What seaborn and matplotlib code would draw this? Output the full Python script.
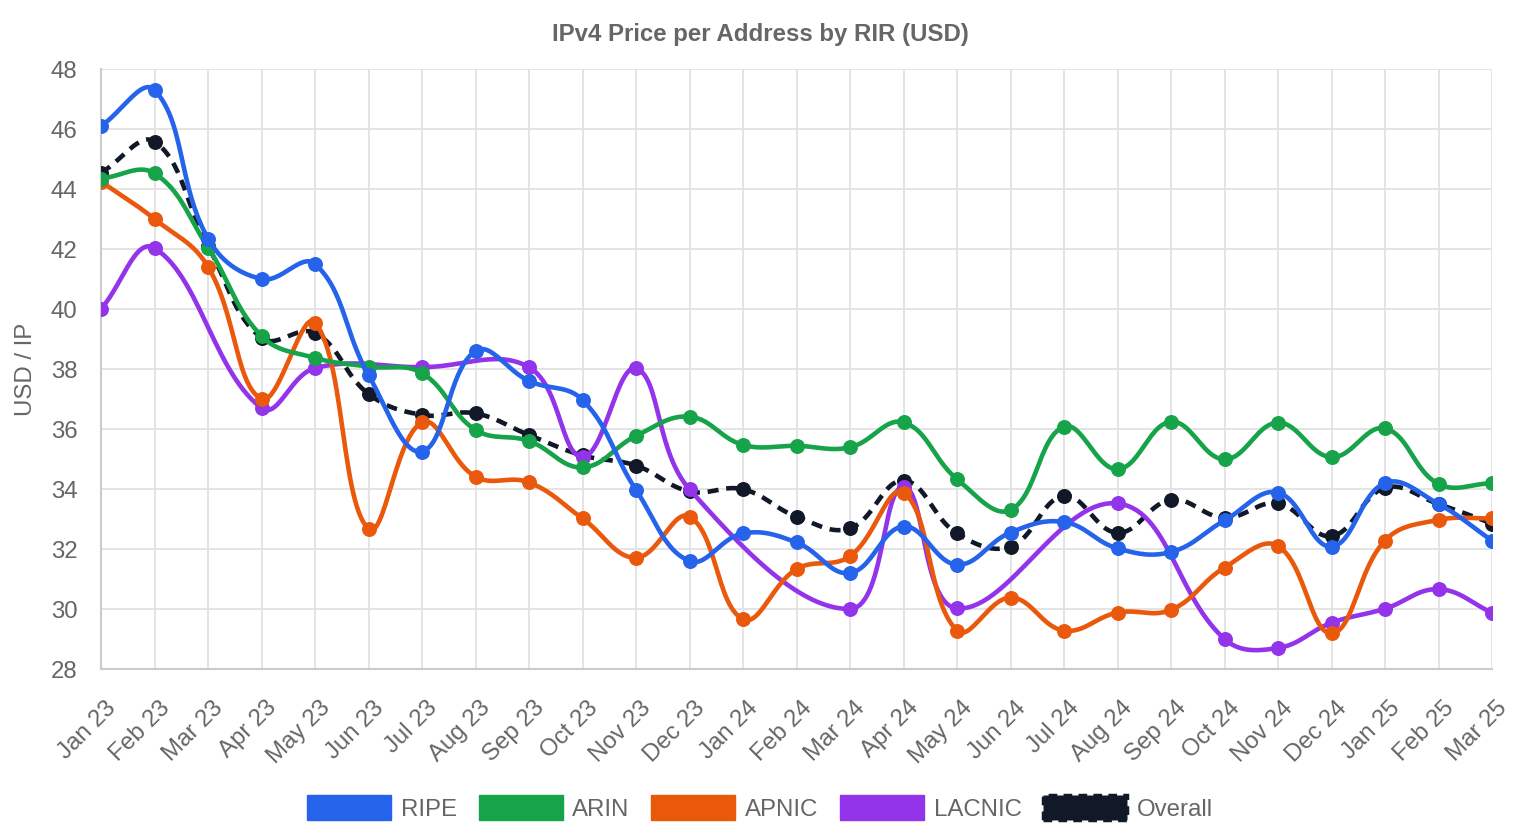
import numpy as np
import pandas as pd
import matplotlib
matplotlib.use("Agg")
import matplotlib.pyplot as plt
import matplotlib.transforms as mtransforms
from matplotlib.patches import Patch
import seaborn as sns

months = ["Jan 23", "Feb 23", "Mar 23", "Apr 23", "May 23", "Jun 23", "Jul 23",
          "Aug 23", "Sep 23", "Oct 23", "Nov 23", "Dec 23", "Jan 24", "Feb 24",
          "Mar 24", "Apr 24", "May 24", "Jun 24", "Jul 24", "Aug 24", "Sep 24",
          "Oct 24", "Nov 24", "Dec 24", "Jan 25", "Feb 25", "Mar 25"]

nan = np.nan
ripe = [46.10, 47.30, 42.35, 41.00, 41.50, 37.80, 35.25, 38.60, 37.60, 36.97,
        33.97, 31.60, 32.52, 32.22, 31.20, 32.75, 31.48, 32.55, 32.90, 32.02,
        31.90, 32.95, 33.88, 32.08, 34.20, 33.50, 32.28]
arin = [44.35, 44.52, 42.05, 39.10, 38.37, 38.08, 37.86, 35.97, 35.60, 34.72,
        35.77, 36.41, 35.47, 35.44, 35.39, 36.22, 34.33, 33.30, 36.08, 34.66,
        36.24, 34.99, 36.21, 35.06, 36.02, 34.17, 34.19]
apnic = [44.25, 43.00, 41.41, 37.00, 39.55, 32.67, 36.22, 34.41, 34.22, 33.02,
         31.71, 33.08, 29.66, 31.33, 31.76, 33.88, 29.28, 30.38, 29.28, 29.88,
         29.97, 31.38, 32.10, 29.19, 32.28, 32.97, 33.02]
lacnic = [40.00, 42.03, nan, 36.70, 38.03, nan, 38.06, nan, 38.06, 35.07,
          38.02, 33.99, nan, nan, 30.00, 34.08, 30.02, nan, nan, 33.52,
          nan, 29.00, 28.70, 29.54, 30.01, 30.66, 29.88]
overall = [44.54, 45.58, 42.10, 39.03, 39.20, 37.17, 36.47, 36.52, 35.80, 35.12,
           34.78, 33.92, 33.99, 33.08, 32.69, 34.28, 32.52, 32.08, 33.77, 32.54,
           33.64, 33.04, 33.52, 32.43, 34.04, 33.50, 32.85]

series_names = ["RIPE", "ARIN", "APNIC", "LACNIC", "Overall"]
series_values = [ripe, arin, apnic, lacnic, overall]
colors = ["#2563eb", "#16a34a", "#ea580c", "#9333ea", "#111827"]

Y_MIN, Y_MAX = 28, 48
TEXT = "#666666"
GRID = "#e2e2e2"
AXIS = "#cccccc"


def smooth_curve(xs, ys, tension=0.4, steps=30):
    # bezier spline like Chart.js (tension 0.4), gaps are skipped
    xs = np.asarray(xs, float)
    ys = np.asarray(ys, float)
    keep = ~np.isnan(ys)
    xs, ys = xs[keep], ys[keep]
    # work in pixel-like units so distances match the drawn chart
    px, py = xs * 53.5, ys * 30.0
    n = len(px)
    cprev = np.zeros((n, 2))
    cnext = np.zeros((n, 2))
    for i in range(n):
        a = max(i - 1, 0)
        b = min(i + 1, n - 1)
        d01 = np.hypot(px[i] - px[a], py[i] - py[a])
        d12 = np.hypot(px[b] - px[i], py[b] - py[i])
        tot = d01 + d12
        s01 = d01 / tot if tot else 0
        s12 = d12 / tot if tot else 0
        dx, dy = px[b] - px[a], py[b] - py[a]
        cprev[i] = (px[i] - tension * s01 * dx, py[i] - tension * s01 * dy)
        cnext[i] = (px[i] + tension * s12 * dx, py[i] + tension * s12 * dy)
    cprev[:, 1] = np.clip(cprev[:, 1], Y_MIN * 30, Y_MAX * 30)
    cnext[:, 1] = np.clip(cnext[:, 1], Y_MIN * 30, Y_MAX * 30)
    t = np.linspace(0, 1, steps)[:, None]
    out = [np.array([[px[0], py[0]]])]
    for i in range(n - 1):
        p0 = np.array([px[i], py[i]])
        p3 = np.array([px[i + 1], py[i + 1]])
        seg = ((1 - t) ** 3) * p0 + 3 * ((1 - t) ** 2) * t * cnext[i] \
            + 3 * (1 - t) * t ** 2 * cprev[i + 1] + t ** 3 * p3
        out.append(seg[1:])
    pts = np.vstack(out)
    return pts[:, 0] / 53.5, pts[:, 1] / 30.0


def main():
    sns.set_theme(style="white")
    plt.rcParams["font.family"] = ["Liberation Sans", "DejaVu Sans"]

    fig = plt.figure(figsize=(15.2, 8.4), dpi=100)
    ax = fig.add_axes([101 / 1520, 1 - 669 / 840, 1391 / 1520, 600 / 840])

    x_pos = np.arange(len(months))
    n_series = len(series_names)

    # draw the last dataset first so RIPE ends up on top
    for k in reversed(range(n_series)):
        name, vals, col = series_names[k], series_values[k], colors[k]
        cx, cy = smooth_curve(x_pos, vals)
        curve = pd.DataFrame({"x": cx, "y": cy})
        pts = pd.DataFrame({"x": x_pos, "y": vals}).dropna()
        z = 3 + (n_series - k) * 2
        ls = (0, (2.4, 1.7)) if name == "Overall" else "-"
        sns.lineplot(data=curve, x="x", y="y", ax=ax, color=col, sort=False,
                     estimator=None, linewidth=3.3, linestyle=ls, zorder=z)
        sns.scatterplot(data=pts, x="x", y="y", ax=ax, color=col, s=95,
                        edgecolor=col, linewidth=1, zorder=z + 1)

    ax.set_xlim(0, len(months) - 1)
    ax.set_ylim(Y_MIN, Y_MAX)
    ax.set_xticks(x_pos)
    ax.set_xticklabels(months)
    ax.set_yticks(np.arange(Y_MIN, Y_MAX + 1, 2))
    ax.set_xlabel("")
    ax.set_ylabel("USD / IP", fontsize=17.3, color=TEXT)
    ax.yaxis.set_label_coords(-0.046, 0.5)

    ax.grid(True, color=GRID, linewidth=1.3)
    ax.set_axisbelow(True)
    for side in ["top", "right"]:
        ax.spines[side].set_visible(False)
    ax.spines["left"].set_color(AXIS)
    ax.spines["left"].set_linewidth(1.5)
    ax.spines["bottom"].set_color(AXIS)
    ax.spines["bottom"].set_linewidth(1.5)

    ax.tick_params(axis="both", colors=GRID, labelcolor=TEXT, labelsize=17.3,
                   length=11, width=1.3)
    ax.tick_params(axis="y", pad=6)
    ax.tick_params(axis="x", pad=9)
    offset = mtransforms.ScaledTranslation(4 / 100, 0, fig.dpi_scale_trans)
    for lab in ax.get_xticklabels():
        lab.set_rotation(45)
        lab.set_ha("right")
        lab.set_va("top")
        lab.set_rotation_mode("anchor")
        lab.set_transform(lab.get_transform() + offset)

    fig.text(0.5, 1 - 34 / 840, "IPv4 Price per Address by RIR (USD)",
             ha="center", va="center", fontsize=17.3, fontweight="bold", color=TEXT)

    handles = []
    for name, col in zip(series_names, colors):
        if name == "Overall":
            handles.append(Patch(facecolor=col, edgecolor=col, linewidth=2.5,
                                 linestyle=(0, (2.5, 1.8)), label=name))
        else:
            handles.append(Patch(facecolor=col, edgecolor=col, label=name))
    leg = fig.legend(handles=handles, loc="center", bbox_to_anchor=(0.5, 1 - 808 / 840),
                     ncol=5, frameon=False, fontsize=17.3, handlelength=3.5,
                     handleheight=1.2, handletextpad=0.4, columnspacing=0.9)
    for txt in leg.get_texts():
        txt.set_color(TEXT)

    fig.savefig("out.png", dpi=100)
    plt.close(fig)


if __name__ == "__main__":
    main()
